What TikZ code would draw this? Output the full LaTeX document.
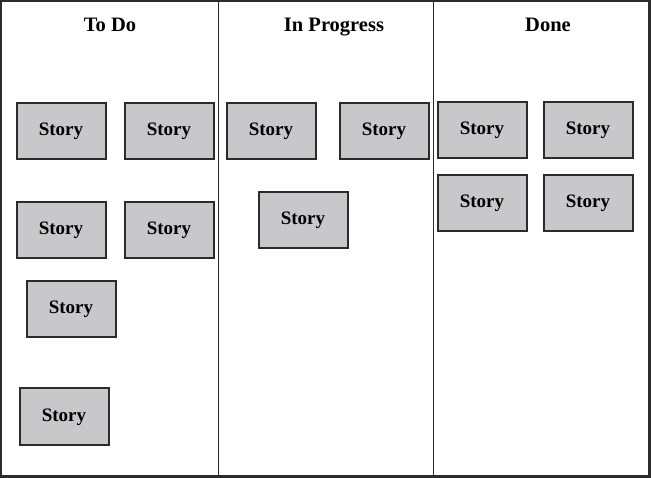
\documentclass[tikz,border=0pt]{standalone}
\usepackage{fontspec}
\setmainfont{Liberation Serif}
\usetikzlibrary{positioning}
\definecolor{kGray}{HTML}{C8C8CA}
\definecolor{kLine}{HTML}{2B2B2B}

\begin{document}
\begin{tikzpicture}[x=1pt,y=-1pt,
  story/.style={draw=kLine,fill=kGray,line width=2pt,minimum width=89pt,
    minimum height=56pt,inner sep=0pt,text height=13.5pt,text depth=4.5pt,
    font=\fontsize{19}{21}\selectfont\bfseries},
  head/.style={anchor=base,font=\fontsize{20.5}{23}\selectfont\bfseries}]
  \useasboundingbox (0,0) rectangle (651,478);
  % ---- board ----
  \draw[kLine,line width=2.2pt] (1,1) rectangle (649.5,476.5);
  \draw[kLine,line width=1.8pt] (218.5,1) -- (218.5,476.5);
  \draw[kLine,line width=1.8pt] (433.5,1) -- (433.5,476.5);
  % ---- headers ----
  \node[head] (todo) at (110,32) {To Do};
  \node[head] (inprog) at (334,32) {In Progress};
  \node[head] (done) at (548,32) {Done};
  % ---- To Do ----
  \node[story] (t1) at (61,131.5) {Story};
  \node[story] (t2) at (169,131.5) {Story};
  \node[story] (t3) at (61,230.5) {Story};
  \node[story] (t4) at (169,230.5) {Story};
  \node[story] (t5) at (71,309.5) {Story};
  \node[story] (t6) at (64,416.5) {Story};
  % ---- In Progress ----
  \node[story] (p1) at (271,131.5) {Story};
  \node[story] (p2) at (384,131.5) {Story};
  \node[story] (p3) at (303,220.5) {Story};
  % ---- Done ----
  \foreach \x/\y/\n in {482/130.5/d1,588/130.5/d2,482/203.5/d3,588/203.5/d4}{
    \node[story] (\n) at (\x,\y) {Story};
  }
\end{tikzpicture}
\end{document}
